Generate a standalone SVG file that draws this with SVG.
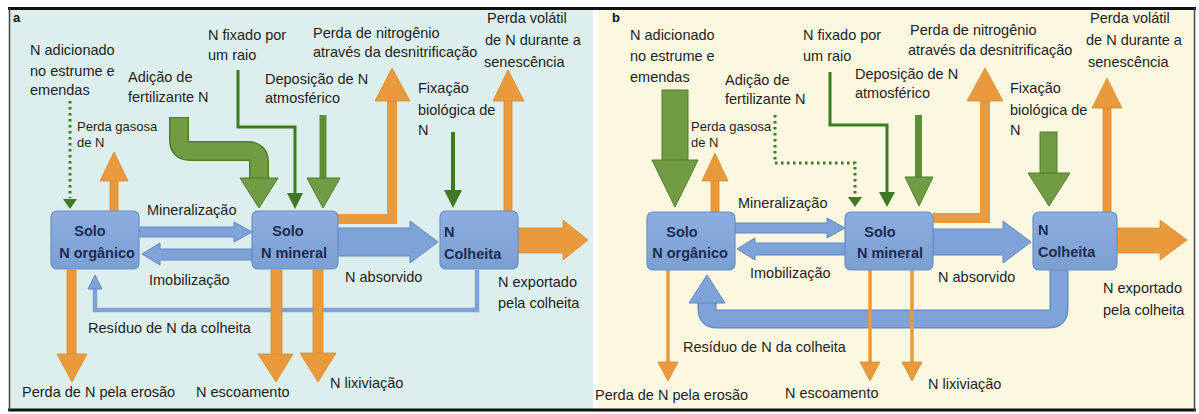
<svg xmlns="http://www.w3.org/2000/svg" width="1199" height="414" viewBox="0 0 1199 414">
<defs>
<style>
.t{font-family:"Liberation Sans",Arial,sans-serif;font-size:14.5px;fill:#1e1e1e}
.ts{font-family:"Liberation Sans",Arial,sans-serif;font-size:13px;fill:#1e1e1e}
.tb{font-family:"Liberation Sans",Arial,sans-serif;font-size:14.5px;font-weight:bold;fill:#1d2b4e}
.pl{font-family:"Liberation Sans",Arial,sans-serif;font-size:13px;font-weight:bold;fill:#111}
.box{fill:url(#bg);stroke:#6a8fc6;stroke-width:1.2}
.blue{fill:#7fa3d6;stroke:#5f87c2;stroke-width:1}
.org{fill:#e99a3c;stroke:#d98a2c;stroke-width:0.8}
.orgl{fill:none;stroke:#e99a3c}
.gthick{fill:#719c43;stroke:#4f7d2a;stroke-width:1}
.gmed{fill:#5e8e36}
.gline{fill:none;stroke:#3d7a22;stroke-width:3}
.gdot{fill:none;stroke:#3d7a22;stroke-width:3;stroke-dasharray:2.5 3.5}
.ghead{fill:#3d7a22}
</style>
<linearGradient id="bg" x1="0" y1="0" x2="0" y2="1">
<stop offset="0" stop-color="#8dade0"/>
<stop offset="1" stop-color="#7c9fd2"/>
</linearGradient>
</defs>

<rect x="0" y="0" width="1199" height="414" fill="#ffffff"/>
<rect x="10" y="10" width="583" height="399" fill="#dcefed"/>
<rect x="598" y="10" width="595" height="399" fill="#fcf8e0"/>
<line x1="8" y1="8.5" x2="1196" y2="8.5" stroke="#111" stroke-width="3"/>
<line x1="8" y1="410" x2="1196" y2="410" stroke="#111" stroke-width="3"/>
<line x1="9.5" y1="8" x2="9.5" y2="411" stroke="#444" stroke-width="1.5"/>
<line x1="1194.5" y1="8" x2="1194.5" y2="411" stroke="#444" stroke-width="1.5"/>
<text class="pl" x="13" y="22">a</text>
<text class="pl" x="612" y="22">b</text>

<g id="connectors">
<!-- Panel a -->
<polygon class="blue" points="140,227 234,227 234,222 252,232 234,242 234,237 140,237"/>
<polygon class="blue" points="252,249 160,249 160,243 142,254 160,265 160,260 252,260"/>
<polygon class="blue" points="338,228 410,228 410,221 438,242 410,263 410,256 338,256"/>
<polygon class="org" points="518,228 563,228 563,220 588,240 563,260 563,253 518,253"/>
<path d="M477 270 V310 H95 V288" fill="none" stroke="#7fa3d6" stroke-width="4.5"/>
<polygon class="blue" points="88,289 102,289 95,275"/>
<rect class="org" x="67" y="270" width="9" height="86"/>
<polygon class="org" points="57,354 87,354 72,382"/>
<rect class="org" x="271" y="270" width="11" height="86"/>
<polygon class="org" points="258,354 293,354 276,382"/>
<rect class="org" x="313" y="270" width="10" height="86"/>
<polygon class="org" points="300,353 336,353 318,382"/>
<path class="gdot" d="M70 101 V198"/>
<polygon class="ghead" points="63,199 77,199 70,209"/>
<rect class="org" x="110" y="178" width="8" height="34"/>
<polygon class="org" points="100,181 128,181 114,152"/>
<path d="M179 117 V140 Q179 151 190 151 H248 Q259 151 259 162 V179" fill="none" stroke="#4f7d2a" stroke-width="20"/>
<path d="M179 118 V140 Q179 151 190 151 H248 Q259 151 259 162 V180" fill="none" stroke="#719c43" stroke-width="17"/>
<polygon class="gthick" points="240,178 278,178 259,208"/>
<path class="gline" d="M238 70 V127 H295 V196"/>
<polygon class="ghead" points="287,193 303,193 295,209"/>
<rect class="gmed" x="319.5" y="115" width="7" height="65"/>
<polygon class="gthick" points="307,178 340,178 323,208"/>
<path d="M338 219 H392 V98" fill="none" stroke="#e99a3c" stroke-width="10"/>
<polygon class="org" points="375,101 410,101 392,68"/>
<rect class="ghead" x="451" y="132" width="4" height="62"/>
<polygon class="ghead" points="444,190 462,190 453,208"/>
<rect class="org" x="504" y="98" width="8" height="114"/>
<polygon class="org" points="493,101 524,101 508,70"/>

<!-- Panel b -->
<polygon class="blue" points="735,223 827,223 827,218 845,228 827,238 827,233 735,233"/>
<polygon class="blue" points="845,243 755,243 755,238 737,249 755,260 755,255 845,255"/>
<polygon class="blue" points="933,229 1003,229 1003,221 1031,242 1003,263 1003,255 933,255"/>
<polygon class="org" points="1117,228 1160,228 1160,220 1187,240 1160,260 1160,253 1117,253"/>
<path d="M1059 270 V309 Q1059 319 1049 319 H717 Q707 319 707 309 V300" fill="none" stroke="#5f87c2" stroke-width="19"/>
<path d="M1059 269 V309 Q1059 319 1049 319 H717 Q707 319 707 309 V299" fill="none" stroke="#7fa3d6" stroke-width="16.5"/>
<polygon class="blue" points="689,303 725,303 707,275"/>
<path class="orgl" d="M668 270 V366" stroke-width="3.5"/>
<polygon class="org" points="658,362 678,362 668,381"/>
<path class="orgl" d="M870 270 V366" stroke-width="3.5"/>
<polygon class="org" points="860,362 880,362 870,381"/>
<path class="orgl" d="M912 270 V366" stroke-width="3.5"/>
<polygon class="org" points="902,362 922,362 912,381"/>
<rect class="gthick" x="662" y="90" width="26" height="72"/>
<polygon class="gthick" points="652,160 698,160 675,207"/>
<path class="gdot" d="M775 115 V163 H855 V197"/>
<polygon class="ghead" points="848,197 862,197 855,207"/>
<rect class="org" x="711" y="178" width="8" height="34"/>
<polygon class="org" points="702,181 728,181 715,153"/>
<path class="gline" d="M830 72 V125 H887 V194"/>
<polygon class="ghead" points="879,192 895,192 887,207"/>
<rect class="gmed" x="915" y="115" width="7" height="64"/>
<polygon class="gthick" points="905,177 933,177 919,206"/>
<path d="M933 218 H985 V98" fill="none" stroke="#e99a3c" stroke-width="10"/>
<polygon class="org" points="967,101 1003,101 985,68"/>
<rect class="gthick" x="1040" y="132" width="17" height="43"/>
<polygon class="gthick" points="1028,173 1070,173 1049,206"/>
<rect class="org" x="1103" y="105" width="8" height="107"/>
<polygon class="org" points="1092,108 1122,108 1107,78"/>
</g>

<g id="node-a-organico">
<rect class="box" x="51" y="211" width="88" height="58" rx="6"/>
<text class="tb" x="90" y="236" text-anchor="middle">Solo</text>
<text class="tb" x="97" y="258" text-anchor="middle">N orgânico</text>
</g>
<g id="node-a-mineral">
<rect class="box" x="252" y="211" width="86" height="58" rx="6"/>
<text class="tb" x="288" y="236" text-anchor="middle">Solo</text>
<text class="tb" x="294" y="258" text-anchor="middle">N mineral</text>
</g>
<g id="node-a-colheita">
<rect class="box" x="440" y="211" width="78" height="58" rx="6"/>
<text class="tb" x="444" y="237">N</text>
<text class="tb" x="444" y="259">Colheita</text>
</g>
<g id="node-b-organico">
<rect class="box" x="647" y="212" width="88" height="58" rx="6"/>
<text class="tb" x="682" y="237" text-anchor="middle">Solo</text>
<text class="tb" x="690" y="258" text-anchor="middle">N orgânico</text>
</g>
<g id="node-b-mineral">
<rect class="box" x="845" y="212" width="88" height="58" rx="6"/>
<text class="tb" x="880" y="237" text-anchor="middle">Solo</text>
<text class="tb" x="890" y="258" text-anchor="middle">N mineral</text>
</g>
<g id="node-b-colheita">
<rect class="box" x="1033" y="212" width="84" height="58" rx="6"/>
<text class="tb" x="1038" y="235">N</text>
<text class="tb" x="1038" y="257">Colheita</text>
</g>

<g id="labels-a">
<text class="t" x="30" y="55">N adicionado</text>
<text class="t" x="30" y="76">no estrume e</text>
<text class="t" x="30" y="95">emendas</text>
<text class="ts" x="77" y="131">Perda gasosa</text>
<text class="ts" x="77" y="147">de N</text>
<text class="t" x="128" y="82">Adição de</text>
<text class="t" x="128" y="102">fertilizante N</text>
<text class="t" x="208" y="40">N fixado por</text>
<text class="t" x="208" y="60">um raio</text>
<text class="t" x="265" y="84">Deposição de N</text>
<text class="t" x="265" y="103">atmosférico</text>
<text class="t" x="313" y="38">Perda de nitrogênio</text>
<text class="t" x="313" y="57">através da desnitrificação</text>
<text class="t" x="487" y="23">Perda volátil</text>
<text class="t" x="485" y="45">de N durante a</text>
<text class="t" x="484" y="67">senescência</text>
<text class="t" x="418" y="93">Fixação</text>
<text class="t" x="418" y="115">biológica de</text>
<text class="t" x="418" y="135">N</text>
<text class="t" x="147" y="215">Mineralização</text>
<text class="t" x="149" y="285">Imobilização</text>
<text class="t" x="345" y="282">N absorvido</text>
<text class="t" x="498" y="287">N exportado</text>
<text class="t" x="498" y="308">pela colheita</text>
<text class="t" x="88" y="333">Resíduo de N da colheita</text>
<text class="t" x="22" y="397">Perda de N pela erosão</text>
<text class="t" x="196" y="397">N escoamento</text>
<text class="t" x="330" y="388">N lixiviação</text>
</g>

<g id="labels-b">
<text class="t" x="630" y="40">N adicionado</text>
<text class="t" x="630" y="61">no estrume e</text>
<text class="t" x="630" y="82">emendas</text>
<text class="ts" x="691" y="131">Perda gasosa</text>
<text class="ts" x="691" y="147">de N</text>
<text class="t" x="725" y="85">Adição de</text>
<text class="t" x="725" y="104">fertilizante N</text>
<text class="t" x="803" y="40">N fixado por</text>
<text class="t" x="803" y="61">um raio</text>
<text class="t" x="855" y="79">Deposição de N</text>
<text class="t" x="855" y="98">atmosférico</text>
<text class="t" x="910" y="35">Perda de nitrogênio</text>
<text class="t" x="908" y="55">através da desnitrificação</text>
<text class="t" x="1090" y="23">Perda volátil</text>
<text class="t" x="1086" y="45">de N durante a</text>
<text class="t" x="1088" y="67">senescência</text>
<text class="t" x="1010" y="93">Fixação</text>
<text class="t" x="1010" y="115">biológica de</text>
<text class="t" x="1010" y="135">N</text>
<text class="t" x="738" y="208">Mineralização</text>
<text class="t" x="750" y="278">Imobilização</text>
<text class="t" x="938" y="282">N absorvido</text>
<text class="t" x="1103" y="293">N exportado</text>
<text class="t" x="1103" y="315">pela colheita</text>
<text class="t" x="683" y="352">Resíduo de N da colheita</text>
<text class="t" x="595" y="400">Perda de N pela erosão</text>
<text class="t" x="785" y="398">N escoamento</text>
<text class="t" x="928" y="389">N lixiviação</text>
</g>
</svg>
